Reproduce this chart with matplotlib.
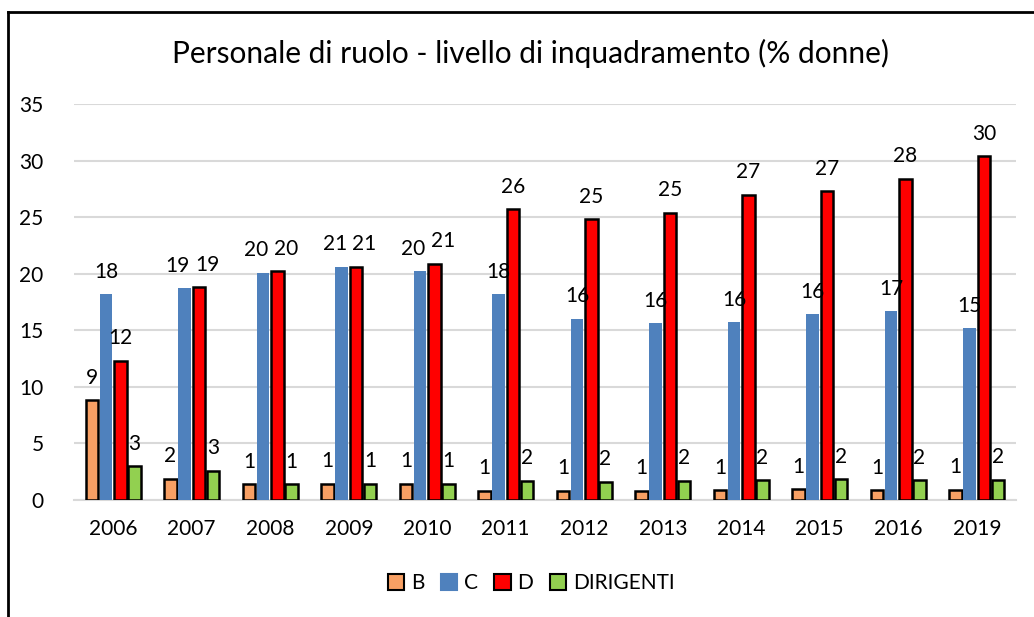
import matplotlib
matplotlib.use("Agg")
import matplotlib.pyplot as plt
import numpy as np
from matplotlib.lines import Line2D
from matplotlib.patches import Patch

plt.rcParams['font.family'] = ['Lato', 'DejaVu Sans']

years = ['2006', '2007', '2008', '2009', '2010', '2011', '2012', '2013', '2014', '2015', '2016', '2019']
B = [8.8, 1.9, 1.4, 1.45, 1.45, 0.8, 0.8, 0.8, 0.85, 0.95, 0.85, 0.9]
C = [18.2, 18.7, 20.1, 20.6, 20.2, 18.2, 16.0, 15.6, 15.7, 16.4, 16.7, 15.2]
D = [12.3, 18.8, 20.2, 20.6, 20.9, 25.7, 24.8, 25.4, 27.0, 27.3, 28.4, 30.4]
DIR = [3.0, 2.6, 1.4, 1.45, 1.45, 1.7, 1.6, 1.7, 1.75, 1.85, 1.75, 1.8]
series_names = ['B', 'C', 'D', 'DIRIGENTI']
title = 'Personale di ruolo - livello di inquadramento (% donne)'

colors = ['#F8A064', '#4F81BD', '#FF0000', '#92D050']
edges = ['black', 'none', 'black', 'black']

W, H = 1034, 617
fig = plt.figure(figsize=(W / 100, H / 100), dpi=100)
ax = fig.add_axes([74 / W, 1 - 500 / H, (1016 - 74) / W, (500 - 104) / H])

x = np.arange(len(years))
pitch = 0.18
bw = 0.16
all_series = [B, C, D, DIR]
for i, (vals, col, ec) in enumerate(zip(all_series, colors, edges)):
    xs = x + (i - 1.5) * pitch
    ax.bar(xs, vals, width=bw, color=col, edgecolor=ec,
           linewidth=1.8 if ec != 'none' else 0, zorder=3)
    for k, (xi, v) in enumerate(zip(xs, vals)):
        dx = 0
        # push apart C and D labels when their bars have similar heights
        if abs(C[k] - D[k]) < 2.0:
            if i == 1:
                dx = -5
            elif i == 2:
                dx = 6
        ax.annotate(f'{v:.0f}', (xi, v), xytext=(dx, 9), textcoords='offset points',
                    ha='center', va='bottom', fontsize=15, color='black', zorder=5)

ax.set_ylim(0, 35)
ax.set_xlim(-0.5, len(years) - 0.5)
ax.set_yticks(range(0, 36, 5))
ax.set_xticks(x)
ax.set_xticklabels(years)
ax.tick_params(axis='both', length=0, labelsize=15, colors='black')
ax.tick_params(axis='y', pad=22)
ax.tick_params(axis='x', pad=14)
ax.yaxis.grid(True, color='#d9d9d9', linewidth=1.5, zorder=0)
ax.set_axisbelow(True)
for s in ['top', 'right', 'left']:
    ax.spines[s].set_visible(False)
ax.spines['bottom'].set_color('#d9d9d9')
ax.spines['bottom'].set_linewidth(1.5)

fig.text(530 / W, 1 - 53 / H, title, ha='center', va='center', fontsize=21.5)

handles = [Patch(facecolor=c, edgecolor=('black' if e != 'none' else c), linewidth=1.5)
           for c, e in zip(colors, edges)]
fig.legend(handles, series_names, loc='center', bbox_to_anchor=(531 / W, 1 - 583 / H),
           ncol=4, frameon=False, fontsize=15, handlelength=0.8, handleheight=0.8,
           handletextpad=0.3, columnspacing=0.8)

# outer frame (left and top edges visible)
fig.add_artist(Line2D([8 / W, 8 / W], [0, 1 - 12 / H], color='black', linewidth=2, transform=fig.transFigure))
fig.add_artist(Line2D([8 / W, 1], [1 - 12 / H, 1 - 12 / H], color='black', linewidth=2, transform=fig.transFigure))

fig.savefig('out.png', dpi=100)
